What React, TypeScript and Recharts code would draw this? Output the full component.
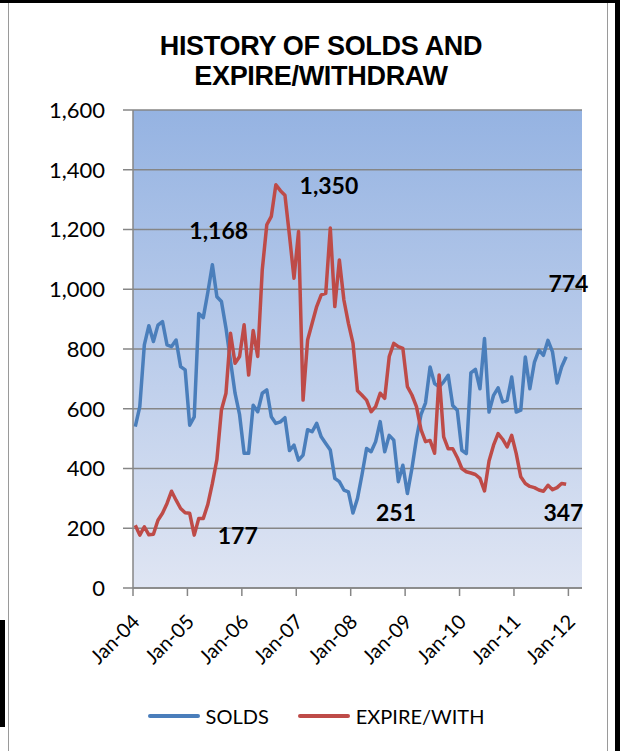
import { LineChart, Line, XAxis, YAxis, CartesianGrid, Legend, ReferenceDot } from "recharts"

// monthly values, Jan-04 .. Dec-11
const solds = [
  540, 607, 814, 878, 825, 880, 892, 814, 808, 830, 741, 730,
  545, 573, 919, 905, 990, 1082, 975, 959, 870, 760, 652, 580,
  451, 451, 612, 590, 652, 663, 573, 551, 556, 570, 460, 478,
  428, 445, 530, 523, 551, 506, 484, 462, 367, 356, 328, 322,
  251, 300, 380, 467, 456, 490, 557, 456, 511, 495, 356, 411,
  316, 400, 500, 580, 620, 740, 684, 673, 690, 712, 611, 595,
  461, 450, 720, 732, 667, 835, 589, 645, 670, 623, 628, 706,
  589, 595, 773, 667, 755, 796, 779, 829, 790, 686, 740, 774,
]

const expireWith = [
  210, 177, 205, 178, 180, 227, 250, 283, 324, 294, 266, 252,
  250, 177, 233, 233, 280, 350, 430, 596, 652, 853, 752, 775,
  881, 713, 862, 775, 1065, 1216, 1244, 1350, 1330, 1315, 1180, 1037,
  1193, 629, 830, 886, 942, 981, 986, 1205, 942, 1098, 964, 886,
  820, 660, 645, 629, 590, 607, 652, 635, 775, 819, 808, 802,
  674, 646, 607, 530, 490, 494, 451, 713, 506, 466, 466, 437,
  400, 389, 385, 380, 367, 325, 425, 478, 517, 498, 472, 511,
  450, 372, 350, 340, 336, 328, 324, 344, 329, 336, 350, 347,
]

const yearLabels = ["Jan-04", "Jan-05", "Jan-06", "Jan-07", "Jan-08", "Jan-09", "Jan-10", "Jan-11", "Jan-12"]
const yTicks = [0, 200, 400, 600, 800, 1000, 1200, 1400, 1600]

// callout texts with their place in chart units (months from Jan-04, value)
const callouts = [
  { text: "1,168", t: 18.9, v: 1195 },
  { text: "1,350", t: 43.2, v: 1347 },
  { text: "774", t: 96, v: 1018 },
  { text: "177", t: 23.1, v: 175 },
  { text: "251", t: 58, v: 250 },
  { text: "347", t: 94.9, v: 253 },
]

// points sit mid-month on a month scale
const data = solds.map((s, i) => ({ t: i + 0.5, solds: s, expire: expireWith[i] }))

const BLUE = "#4A7EBB"
const RED = "#BE4B48"
const labelFont = "Lato, 'Open Sans', sans-serif"

const XTick = (props: any) => {
  const { x, y, payload } = props
  const px = x + 8
  const py = y + 25
  return (
    <text
      x={px}
      y={py}
      textAnchor="end"
      transform={`rotate(-45 ${px} ${py})`}
      fontFamily={labelFont}
      fontSize={20}
      fill="#000"
    >
      {yearLabels[Math.round(payload.value / 12)]}
    </text>
  )
}

const renderLegend = () => (
  <div style={{ display: "flex", justifyContent: "center", alignItems: "center", fontFamily: labelFont, fontSize: 20, color: "#000", paddingLeft: 9 }}>
    {[
      { name: "SOLDS", color: BLUE },
      { name: "EXPIRE/WITH", color: RED },
    ].map((it, i) => (
      <div key={it.name} style={{ display: "flex", alignItems: "center", marginLeft: i ? 29 : 0 }}>
        <div style={{ width: 52, height: 4, background: it.color, borderRadius: 2, marginRight: 6 }} />
        <span>{it.name}</span>
      </div>
    ))}
  </div>
)

export default function App() {
  return (
    <div style={{ position: "absolute", left: 0, top: 0, width: 623, height: 751, background: "#fff", overflow: "hidden" }}>
      {/* frame bits around the chart */}
      <div style={{ position: "absolute", left: 0, top: 0, width: 618, height: 3, background: "#000" }} />
      <div style={{ position: "absolute", left: 615, top: 0, width: 5, height: 751, background: "#000" }} />
      <div style={{ position: "absolute", left: 607, top: 3, width: 1, height: 748, background: "#9a9a9a" }} />
      <div style={{ position: "absolute", left: 8, top: 3, width: 1, height: 748, background: "#9a9a9a" }} />
      <div style={{ position: "absolute", left: 0, top: 620, width: 5, height: 107, background: "#000" }} />

      <div
        style={{
          position: "absolute",
          left: 0,
          top: 31,
          width: 642,
          textAlign: "center",
          fontFamily: "'Liberation Sans', Arial, sans-serif",
          fontWeight: 700,
          fontSize: 27,
          lineHeight: "30px",
          letterSpacing: -0.3,
          color: "#000",
        }}
      >
        HISTORY OF SOLDS AND
        <br />
        EXPIRE/WITHDRAW
      </div>

      <LineChart width={623} height={751} data={data} margin={{ top: 110, right: 41, bottom: 83, left: 0 }}>
        <defs>
          <linearGradient id="plotBg" x1="0" y1="0" x2="0" y2="1">
            <stop offset="0%" stopColor="#95B3E2" />
            <stop offset="100%" stopColor="#DFE5F3" />
          </linearGradient>
        </defs>
        <CartesianGrid vertical={false} fill="url(#plotBg)" stroke="#868686" strokeWidth={1.5} />
        <XAxis
          type="number"
          dataKey="t"
          domain={[0, 99]}
          ticks={yearLabels.map((_, i) => i * 12)}
          interval={0}
          height={80}
          tickSize={8}
          tick={<XTick />}
          axisLine={{ stroke: "#868686", strokeWidth: 1.5 }}
          tickLine={{ stroke: "#868686", strokeWidth: 1.5 }}
        />
        <YAxis
          domain={[0, 1600]}
          ticks={yTicks}
          width={133}
          tickSize={10}
          tickMargin={18}
          tickFormatter={(v: number) => v.toLocaleString("en-US")}
          tick={{ fontFamily: labelFont, fontSize: 22, fill: "#000" }}
          axisLine={{ stroke: "#868686", strokeWidth: 1.5 }}
          tickLine={{ stroke: "#868686", strokeWidth: 1.5 }}
        />
        <Legend
          layout="horizontal"
          verticalAlign="middle"
          align="center"
          content={renderLegend}
          wrapperStyle={{ top: 704, left: 0, width: 623 }}
        />
        <Line
          type="linear"
          dataKey="solds"
          name="SOLDS"
          stroke={BLUE}
          strokeWidth={3.5}
          dot={false}
          strokeLinejoin="round"
          isAnimationActive={false}
        />
        <Line
          type="linear"
          dataKey="expire"
          name="EXPIRE/WITH"
          stroke={RED}
          strokeWidth={3.5}
          dot={false}
          strokeLinejoin="round"
          isAnimationActive={false}
        />
        {callouts.map((c) => (
          <ReferenceDot
            key={c.text}
            x={c.t}
            y={c.v}
            r={0}
            fill="none"
            stroke="none"
            ifOverflow="visible"
            label={{ value: c.text, position: "center", fontFamily: labelFont, fontWeight: 700, fontSize: 23, fill: "#000" }}
          />
        ))}
      </LineChart>
    </div>
  )
}
